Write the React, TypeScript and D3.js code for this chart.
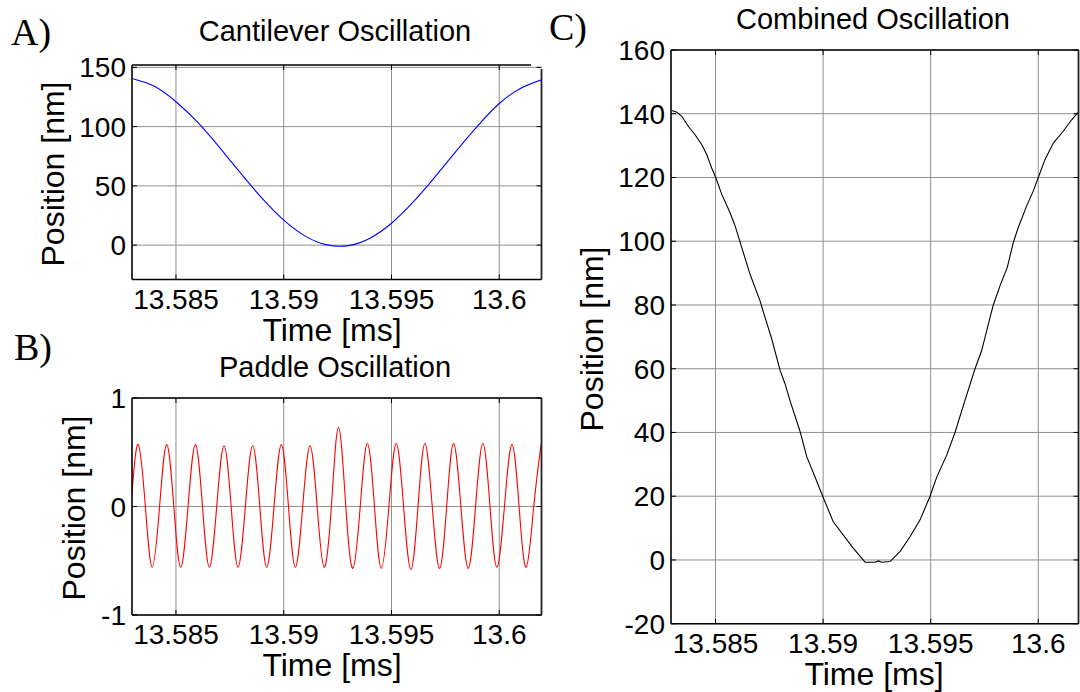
import React from "react";
import * as d3 from "d3";

// ---------- data ----------
const xTickValues = [13.585, 13.59, 13.595, 13.6];
const xTickLabels = ["13.585", "13.59", "13.595", "13.6"];

const cantileverTicks = [0, 50, 100, 150];
const paddleTicks = [-1, 0, 1];
const combinedTicks = [-20, 0, 20, 40, 60, 80, 100, 120, 140, 160];

const cantileverTime = [
  13.583, 13.584, 13.585, 13.586, 13.587, 13.588, 13.589, 13.59, 13.591, 13.592,
  13.593, 13.594, 13.595, 13.596, 13.597, 13.598, 13.599, 13.6, 13.601, 13.602,
];
const cantileverPos = [
  140.4, 134.0, 121.0, 103.8, 82.9, 60.7, 39.4, 21.1, 7.6, 0.2,
  -0.4, 5.9, 18.5, 36.2, 57.1, 79.4, 100.7, 119.5, 132.4, 139.8,
];

const paddleTime = [
  13.58296, 13.58325, 13.58358, 13.5839, 13.58424, 13.58457, 13.5849, 13.58522,
  13.58556, 13.5859, 13.58623, 13.58655, 13.58689, 13.58723, 13.58756, 13.58788,
  13.58822, 13.58856, 13.58889, 13.58921, 13.58955, 13.58989, 13.59022, 13.59054,
  13.59088, 13.59122, 13.59155, 13.59187, 13.59221, 13.59254, 13.59288, 13.59321,
  13.59355, 13.59388, 13.59421, 13.59453, 13.59488, 13.59522, 13.59556, 13.5959,
  13.59623, 13.59655, 13.59689, 13.59723, 13.59756, 13.59788, 13.59822, 13.59856,
  13.5989, 13.59924, 13.59957, 13.59989, 13.60024, 13.60059, 13.60092, 13.60125,
  13.6016, 13.60194,
];
const paddlePos = [
  0.12, 0.57, 0, -0.56, 0, 0.57, 0, -0.56,
  0, 0.57, 0, -0.56, 0, 0.56, 0, -0.56,
  0, 0.56, 0, -0.56, 0, 0.57, 0, -0.56,
  0, 0.56, 0, -0.56, 0, 0.73, 0, -0.57,
  0, 0.58, 0, -0.57, 0, 0.58, 0, -0.58,
  0, 0.58, 0, -0.57, 0, 0.58, 0, -0.57,
  0, 0.58, 0, -0.56, 0, 0.57, 0, -0.56,
  0, 0.57,
];

const combinedTime = [
  13.58297, 13.5832, 13.58343, 13.58374, 13.58405, 13.58436, 13.58459, 13.58482,
  13.58501, 13.58529, 13.58567, 13.58591, 13.58622, 13.5866, 13.58707, 13.5873,
  13.58761, 13.588, 13.58823, 13.58846, 13.58893, 13.58924, 13.58962, 13.58998,
  13.59047, 13.59094, 13.5914, 13.59195, 13.59241, 13.59257, 13.59272, 13.59311,
  13.59357, 13.59404, 13.5945, 13.59497, 13.59528, 13.59574, 13.59613, 13.59659,
  13.59706, 13.59737, 13.59776, 13.59791, 13.59822, 13.59856, 13.59884, 13.59907,
  13.59946, 13.59977, 13.6, 13.60031, 13.6007, 13.60116, 13.60155, 13.60186,
];
const combinedPos = [
  141.0, 140.5, 139.2, 136.0, 133.4, 130.3, 127.2, 123.0,
  120.0, 114.7, 109.0, 104.8, 98.0, 89.7, 81.3, 76.1,
  69.4, 59.5, 55.3, 50.0, 40.3, 32.4, 26.1, 20.0,
  12.0, 7.8, 3.7, -0.7, -0.7, -0.3, -0.7, -0.5,
  2.6, 7.3, 12.5, 20.0, 26.0, 32.8, 40.0, 50.0,
  60.0, 65.7, 76.1, 80.0, 86.0, 91.8, 99.6, 104.3,
  111.1, 115.8, 120.0, 125.6, 130.8, 134.5, 138.1, 140.5,
];

// ---------- component ----------
const SANS = "'Liberation Sans', Arial, Helvetica, sans-serif";
const SERIF = "'Liberation Serif', 'Times New Roman', serif";

type PanelProps = {
  id: string;
  left: number;
  right: number;
  top: number;
  bottom: number;
  xDomain: [number, number];
  yDomain: [number, number];
  yTicks: number[];
  times: number[];
  values: number[];
  color: string;
  curve: d3.CurveFactory;
  title: string;
  titleX: number;
  titleY: number;
  yLabelX: number;
  yLabelY: number;
  xLabelX: number;
  boxTopRight?: number;
  rightTop?: number;
};

function Panel(p: PanelProps) {
  const x = d3.scaleLinear().domain(p.xDomain).range([p.left, p.right]);
  const y = d3.scaleLinear().domain(p.yDomain).range([p.bottom, p.top]);
  const pts = p.times.map((t, i) => [t, p.values[i]] as [number, number]);
  const line = d3
    .line<[number, number]>()
    .x((d) => x(d[0]))
    .y((d) => y(d[1]))
    .curve(p.curve);
  const grid = "#8f8f8f";
  const tl = 5;
  const topRight = p.boxTopRight ?? p.right;
  const rightTop = p.rightTop ?? p.top;
  const tickFs = 28;
  return (
    <g>
      <defs>
        <clipPath id={"clip-" + p.id}>
          <rect x={p.left} y={p.top} width={p.right - p.left} height={p.bottom - p.top} />
        </clipPath>
      </defs>
      <rect x={p.left} y={p.top} width={p.right - p.left} height={p.bottom - p.top} fill="#fff" />
      {xTickValues.map((t) => (
        <line key={"gx" + t} x1={x(t)} x2={x(t)} y1={p.top} y2={p.bottom} stroke={grid} strokeWidth={1} />
      ))}
      {p.yTicks.map((v) => (
        <line key={"gy" + v} x1={p.left} x2={p.right} y1={y(v)} y2={y(v)} stroke={grid} strokeWidth={1} />
      ))}
      <path d={line(pts) || ""} fill="none" stroke={p.color} strokeWidth={1.1} clipPath={`url(#clip-${p.id})`} />
      {/* axes box */}
      <line x1={p.left} x2={p.left} y1={p.top} y2={p.bottom} stroke="#000" strokeWidth={1.6} />
      <line x1={p.left} x2={p.right} y1={p.bottom} y2={p.bottom} stroke="#000" strokeWidth={1.6} />
      <line x1={p.left} x2={topRight} y1={p.top} y2={p.top} stroke="#000" strokeWidth={1.3} />
      <line x1={p.right} x2={p.right} y1={rightTop} y2={p.bottom} stroke="#222" strokeWidth={1.8} />
      {/* ticks */}
      {xTickValues.map((t) => (
        <g key={"tx" + t}>
          <line x1={x(t)} x2={x(t)} y1={p.bottom} y2={p.bottom - tl} stroke="#000" strokeWidth={1} />
          <line x1={x(t)} x2={x(t)} y1={p.top} y2={p.top + tl} stroke="#000" strokeWidth={1} />
        </g>
      ))}
      {p.yTicks.map((v) => (
        <g key={"ty" + v}>
          <line x1={p.left} x2={p.left + tl} y1={y(v)} y2={y(v)} stroke="#000" strokeWidth={1} />
          <line x1={p.right} x2={p.right - tl} y1={y(v)} y2={y(v)} stroke="#000" strokeWidth={1} />
        </g>
      ))}
      {/* tick labels */}
      {xTickValues.map((t, i) => (
        <text key={"lx" + t} x={x(t)} y={p.bottom + 29} textAnchor="middle" fontFamily={SANS} fontSize={tickFs} fill="#000">
          {xTickLabels[i]}
        </text>
      ))}
      {p.yTicks.map((v) => (
        <text key={"ly" + v} x={p.left - 6} y={y(v) + 10} textAnchor="end" fontFamily={SANS} fontSize={tickFs} fill="#000">
          {String(v)}
        </text>
      ))}
      {/* titles & labels */}
      <text x={p.titleX} y={p.titleY} textAnchor="middle" fontFamily={SANS} fontSize={29} fill="#000">
        {p.title}
      </text>
      <text x={p.xLabelX} y={p.bottom + 61} textAnchor="middle" fontFamily={SANS} fontSize={32} fill="#000">
        Time [ms]
      </text>
      <text
        transform={`translate(${p.yLabelX},${p.yLabelY}) rotate(-90)`}
        textAnchor="middle"
        fontFamily={SANS}
        fontSize={32}
        fill="#000"
      >
        Position [nm]
      </text>
    </g>
  );
}

export default function App() {
  return (
    <svg
      width={1080}
      height={692}
      viewBox="0 0 1080 692"
      style={{ position: "absolute", left: 0, top: 0, background: "#fff" }}
    >
      <rect x={0} y={0} width={1080} height={692} fill="#fff" />
      <Panel
        id="a"
        left={132}
        right={541.5}
        top={65}
        bottom={279.5}
        xDomain={[13.58296, 13.60196]}
        yDomain={[-29, 152]}
        yTicks={cantileverTicks}
        times={cantileverTime}
        values={cantileverPos}
        color="#0000ff"
        curve={d3.curveNatural}
        title="Cantilever Oscillation"
        titleX={335}
        titleY={41.3}
        yLabelX={64}
        yLabelY={174}
        xLabelX={332}
        boxTopRight={531}
        rightTop={69}
      />
      <Panel
        id="b"
        left={132}
        right={541.5}
        top={398}
        bottom={615}
        xDomain={[13.58296, 13.60196]}
        yDomain={[-1, 1]}
        yTicks={paddleTicks}
        times={paddleTime}
        values={paddlePos}
        color="#ff0000"
        curve={d3.curveNatural}
        title="Paddle Oscillation"
        titleX={335}
        titleY={376.5}
        yLabelX={85}
        yLabelY={508}
        xLabelX={332}
      />
      <Panel
        id="c"
        left={671}
        right={1078.5}
        top={50}
        bottom={623.7}
        xDomain={[13.58293, 13.60187]}
        yDomain={[-20, 160]}
        yTicks={combinedTicks}
        times={combinedTime}
        values={combinedPos}
        color="#000000"
        curve={d3.curveLinear}
        title="Combined Oscillation"
        titleX={873}
        titleY={29}
        yLabelX={603}
        yLabelY={339}
        xLabelX={874}
      />
      <text x={11} y={45} fontFamily={SERIF} fontSize={38} fill="#000">A)</text>
      <text x={14} y={360} fontFamily={SERIF} fontSize={38} fill="#000">B)</text>
      <text x={549} y={40} fontFamily={SERIF} fontSize={38} fill="#000">C)</text>
    </svg>
  );
}
